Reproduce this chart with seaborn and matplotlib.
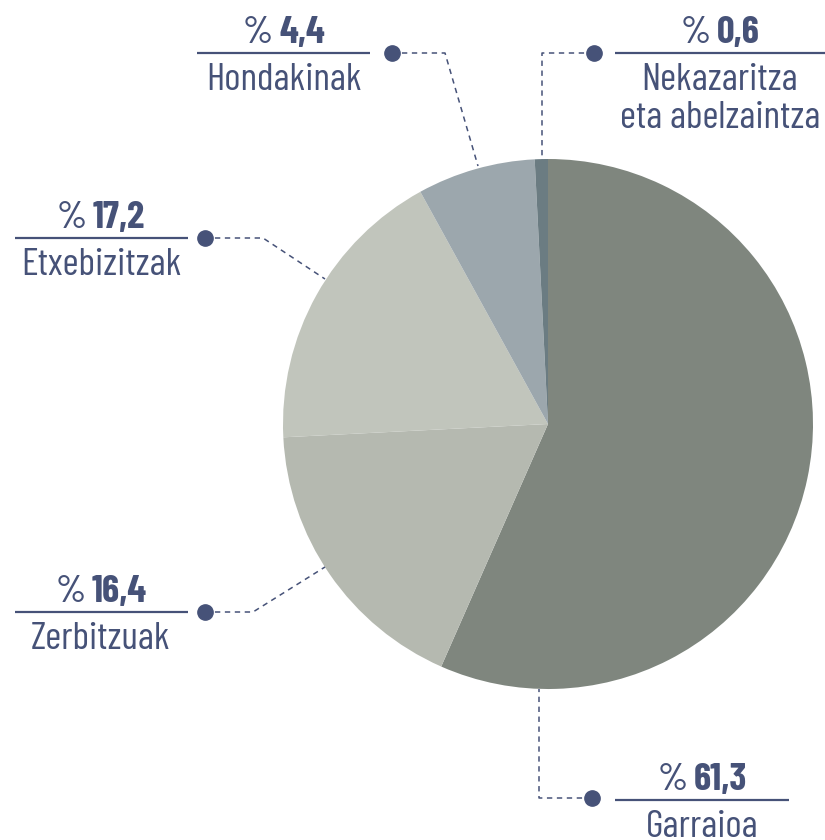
import matplotlib
matplotlib.use("Agg")
import matplotlib.pyplot as plt
import seaborn as sns

# sectors, clockwise from 12 o'clock
sectors = ["Garraioa", "Zerbitzuak", "Etxebizitzak", "Hondakinak",
           "Nekazaritza\neta abelzaintza"]
pct_labels = ["61,3", "16,4", "17,2", "4,4", "0,6"]
# slice sizes as drawn in the picture
shares = [56.6, 17.6, 17.8, 7.2, 0.8]
colors = ["#7f867e", "#b5b9b0", "#c1c5bc", "#9ca7ad", "#6b7c82"]

sns.set_theme(style="white")
plt.rcParams['font.family'] = ['Barlow Condensed', 'DejaVu Sans']

INK = "#465278"
W, H = 825, 840

fig = plt.figure(figsize=(W / 100, H / 100), dpi=100)
ax = fig.add_axes([0, 0, 1, 1])


def Y(y):
    # picture rows counted from top
    return H - y


ax.pie(shares, colors=colors, startangle=90, counterclock=False,
       center=(548, Y(424)), radius=265,
       wedgeprops=dict(linewidth=0))

ax.set_xlim(0, W)
ax.set_ylim(0, H)
ax.set_aspect('equal')
ax.axis('off')

# label layout: text centre x, rule y, rule x0..x1, dot, leader path
layout = {
    "Garraioa": dict(cx=702, rule=800, x0=615, x1=789, dot=(592, 798),
                     path=[(592, 798), (539, 798), (539, 689)]),
    "Zerbitzuak": dict(cx=101, rule=612, x0=15, x1=188, dot=(205, 612),
                       path=[(205, 612), (253, 612), (325, 567)]),
    "Etxebizitzak": dict(cx=101, rule=238, x0=15, x1=188, dot=(205, 238),
                         path=[(205, 238), (263, 238), (325, 279)]),
    "Hondakinak": dict(cx=284, rule=53, x0=197, x1=370, dot=(392, 53),
                       path=[(392, 53), (445, 53), (478, 166)]),
    "Nekazaritza\neta abelzaintza": dict(cx=720, rule=53, x0=615, x1=825,
                                         dot=(594, 53),
                                         path=[(594, 53), (542, 53), (542, 160)]),
}

fig.canvas.draw()
renderer = fig.canvas.get_renderer()
fs = 28

for name, pct in zip(sectors, pct_labels):
    L = layout[name]
    # percent sign medium, number bold
    base = Y(L['rule'] - 10)
    t1 = ax.text(0, base, "%", fontsize=fs, color=INK, fontweight=500,
                 ha='left', va='baseline')
    t2 = ax.text(0, base, pct, fontsize=fs, color=INK, fontweight='bold',
                 ha='left', va='baseline')
    w1 = t1.get_window_extent(renderer).width
    w2 = t2.get_window_extent(renderer).width
    gap = 6
    left = L['cx'] - (w1 + gap + w2) / 2
    t1.set_x(left)
    t2.set_x(left + w1 + gap)

    ax.plot([L['x0'], L['x1']], [Y(L['rule'])] * 2, color=INK, lw=1.6,
            solid_capstyle='butt')
    for i, line in enumerate(name.split("\n")):
        ax.text(L['cx'], Y(L['rule'] + 37 + i * 38), line, fontsize=fs,
                color=INK, ha='center', va='baseline')

    xs = [p[0] for p in L['path']]
    ys = [Y(p[1]) for p in L['path']]
    ax.plot(xs, ys, color=INK, lw=1.1, linestyle=(0, (3.5, 3)))
    ax.plot(L['dot'][0], Y(L['dot'][1]), 'o', color=INK, markersize=11)

fig.savefig("out.png", dpi=100)
